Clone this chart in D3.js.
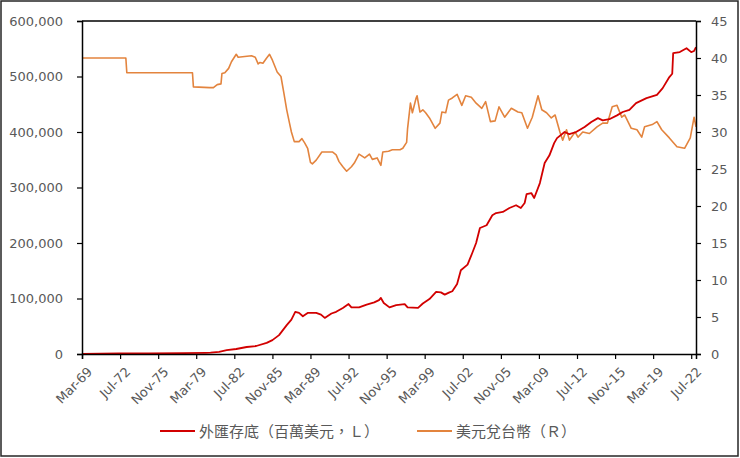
<!DOCTYPE html>
<html>
<head>
<meta charset="utf-8">
<script src="https://cdn.jsdelivr.net/npm/d3@7"></script>
<style>
  body { margin: 0; background: #fff; }
  text { fill: #595959; }
</style>
</head>
<body>
<div id="chart"></div>
<script>
// X axis tick labels (every 40 months)
const tickLabels = ["Mar-69", "Jul-72", "Nov-75", "Mar-79", "Jul-82", "Nov-85", "Mar-89", "Jul-92",
    "Nov-95", "Mar-99", "Jul-02", "Nov-05", "Mar-09", "Jul-12", "Nov-15", "Mar-19", "Jul-22"];
const leftTicks = [0, 100000, 200000, 300000, 400000, 500000, 600000];
const rightTicks = [0, 5, 10, 15, 20, 25, 30, 35, 40, 45];
const firstMonth = "1969-03";
const lastMonth = "2022-12";

// 外匯存底 (百萬美元)
const reserveDates = ["1969-03", "1972-06", "1975-01", "1978-01", "1980-01", "1980-06", "1981-03", "1981-11",
    "1982-09", "1983-08", "1984-06", "1985-05", "1985-11", "1986-06", "1987-02", "1987-07", "1987-11",
    "1988-03", "1988-07", "1988-12", "1989-09", "1990-02", "1990-06", "1991-01", "1991-06", "1992-01",
    "1992-07", "1992-10", "1993-06", "1994-02", "1994-10", "1995-03", "1995-05", "1995-08", "1996-02",
    "1996-09", "1997-06", "1997-09", "1998-08", "1999-01", "1999-08", "2000-03", "2000-08", "2000-12",
    "2001-05", "2001-08", "2002-01", "2002-05", "2002-12", "2003-05", "2003-09", "2004-01", "2004-08",
    "2005-02", "2005-06", "2006-01", "2006-08", "2007-03", "2007-08", "2007-12", "2008-02", "2008-07",
    "2008-10", "2009-04", "2009-09", "2010-02", "2010-07", "2010-10", "2011-06", "2011-11", "2012-06",
    "2013-03", "2013-10", "2014-05", "2014-10", "2015-05", "2016-01", "2016-07", "2017-02", "2017-09",
    "2018-08", "2019-07", "2020-01", "2020-08", "2020-11", "2020-12", "2021-07", "2022-02", "2022-07",
    "2022-10", "2022-12"];
const reserveValues = [400, 1000, 1100, 1400, 2200, 2500, 4000, 7000,
    9000, 12600, 14400, 20000, 25000, 34000, 52000, 62000, 76000,
    74000, 68000, 74000, 74000, 71000, 65000, 73000, 76000, 83000,
    90000, 84000, 84000, 89000, 93000, 97000, 101000, 92000, 84000,
    88000, 90000, 84000, 83000, 91000, 99000, 112000, 111000, 107000,
    111000, 113000, 126000, 151000, 161000, 182000, 200000, 227000, 232000,
    250000, 254000, 256000, 263000, 268000, 263000, 272000, 288000, 290000,
    281000, 308000, 344000, 358000, 380000, 389000, 400000, 396000, 400000,
    409000, 418000, 425000, 421000, 423000, 430000, 436000, 440000, 452000,
    461000, 467000, 479000, 499000, 505000, 542000, 544000, 551000, 544000,
    546000, 553000];

// 美元兌台幣
const fxDates = ["1969-03", "1973-01", "1973-02", "1978-11", "1978-12", "1980-05", "1980-09", "1981-01",
    "1981-05", "1981-06", "1981-09", "1982-01", "1982-04", "1982-09", "1982-11", "1983-06", "1984-01",
    "1984-05", "1984-08", "1984-10", "1985-01", "1985-05", "1985-08", "1985-11", "1986-04", "1986-08",
    "1986-11", "1987-02", "1987-05", "1987-07", "1987-10", "1988-03", "1988-06", "1988-09", "1988-12",
    "1989-03", "1989-05", "1989-09", "1990-03", "1990-11", "1991-02", "1991-06", "1991-09", "1992-01",
    "1992-05", "1992-10", "1993-01", "1993-06", "1993-12", "1994-05", "1994-08", "1995-01", "1995-05",
    "1995-07", "1996-01", "1996-05", "1997-01", "1997-04", "1997-08", "1997-09", "1997-12", "1998-02",
    "1998-06", "1998-07", "1998-10", "1999-01", "1999-04", "1999-08", "2000-02", "2000-07", "2000-09",
    "2001-01", "2001-04", "2001-08", "2002-01", "2002-06", "2002-10", "2003-04", "2003-09", "2004-03",
    "2004-07", "2004-12", "2005-05", "2005-09", "2006-03", "2006-10", "2007-05", "2007-09", "2008-03",
    "2008-08", "2009-02", "2009-06", "2009-11", "2010-04", "2010-08", "2011-01", "2011-04", "2011-08",
    "2011-11", "2012-05", "2012-08", "2013-01", "2013-08", "2014-04", "2014-10", "2015-03", "2015-08",
    "2016-01", "2016-06", "2016-09", "2017-04", "2017-10", "2018-03", "2018-06", "2019-02", "2019-07",
    "2019-12", "2020-08", "2021-04", "2021-12", "2022-06", "2022-10", "2022-12"];
const fxValues = [40.0, 40.0, 38.0, 38.0, 36.1, 36.0, 36.0, 36.4,
    36.5, 37.9, 38.0, 38.6, 39.5, 40.5, 40.1, 40.2, 40.3,
    40.1, 39.2, 39.4, 39.3, 40.0, 40.5, 39.7, 38.1, 37.5,
    35.3, 33.0, 31.2, 30.0, 28.7, 28.7, 29.1, 28.5, 27.8,
    25.9, 25.7, 26.2, 27.3, 27.3, 27.3, 26.9, 26.0, 25.3,
    24.7, 25.3, 25.8, 27.0, 26.5, 27.0, 26.3, 26.5, 25.5,
    27.3, 27.4, 27.6, 27.6, 27.8, 28.6, 30.5, 33.9, 32.6,
    34.6, 34.9, 32.7, 33.0, 32.6, 31.9, 30.5, 31.2, 32.7,
    32.6, 34.3, 34.6, 35.1, 33.6, 34.9, 34.7, 33.9, 33.2,
    34.1, 31.4, 31.5, 33.4, 32.0, 33.2, 32.7, 32.6, 30.5,
    32.0, 34.9, 33.0, 32.6, 31.9, 32.3, 30.0, 28.9, 30.3,
    28.9, 30.0, 29.3, 30.0, 29.8, 30.7, 31.2, 31.2, 33.4,
    33.6, 32.0, 32.3, 30.5, 30.3, 29.3, 30.7, 31.0, 31.4,
    30.3, 29.2, 28.0, 27.8, 29.2, 32.0, 30.7];

const width = 740;
const height = 458;
const margin = {top: 21, right: 44, bottom: 104, left: 82};
const innerW = width - margin.left - margin.right;
const innerH = height - margin.top - margin.bottom;

const parseMonth = d3.timeParse("%Y-%m");
const parseTick = d3.timeParse("%b-%y");

const svg = d3.select("#chart")
    .append("svg")
    .attr("width", width)
    .attr("height", height);

// outer frame
svg.append("rect")
    .attr("x", 1).attr("y", 1)
    .attr("width", width - 3).attr("height", height - 3)
    .attr("fill", "#fff")
    .attr("stroke", "#262626")
    .attr("stroke-width", 1.5);

const g = svg.append("g")
    .attr("transform", `translate(${margin.left},${margin.top})`);

const x = d3.scaleTime()
    .domain([parseMonth(firstMonth), parseMonth(lastMonth)])
    .range([0, innerW]);

const yL = d3.scaleLinear().domain([0, 600000]).range([innerH, 0]);
const yR = d3.scaleLinear().domain([0, 45]).range([innerH, 0]);

// plot area top border
g.append("line")
    .attr("x1", 0).attr("x2", innerW)
    .attr("y1", 0).attr("y2", 0)
    .attr("stroke", "#000")
    .attr("stroke-width", 1.5);

const reserves = reserveDates.map((d, i) => ({date: parseMonth(d), value: reserveValues[i]}));
const fx = fxDates.map((d, i) => ({date: parseMonth(d), value: fxValues[i]}));

g.append("path")
    .datum(fx)
    .attr("fill", "none")
    .attr("stroke", "#E3843E")
    .attr("stroke-width", 1.6)
    .attr("stroke-linejoin", "round")
    .attr("d", d3.line().x(d => x(d.date)).y(d => yR(d.value)));

g.append("path")
    .datum(reserves)
    .attr("fill", "none")
    .attr("stroke", "#D20000")
    .attr("stroke-width", 1.8)
    .attr("stroke-linejoin", "round")
    .attr("d", d3.line().x(d => x(d.date)).y(d => yL(d.value)));

// Left axis
const leftAxis = g.append("g")
    .call(d3.axisLeft(yL).tickValues(leftTicks).tickFormat(d3.format(",")).tickSize(5).tickPadding(14));

// Right axis
const rightAxis = g.append("g")
    .attr("transform", `translate(${innerW},0)`)
    .call(d3.axisRight(yR).tickValues(rightTicks).tickSize(5).tickPadding(10));

// Bottom axis
const bottomAxis = g.append("g")
    .attr("transform", `translate(0,${innerH})`)
    .call(d3.axisBottom(x).tickValues(tickLabels.map(parseTick)).tickFormat(d3.timeFormat("%b-%y")).tickSize(5));

bottomAxis.selectAll("text")
    .attr("text-anchor", "end")
    .attr("dx", 0)
    .attr("dy", 0)
    .attr("transform", "translate(5,13) rotate(-45)");

[leftAxis, rightAxis, bottomAxis].forEach(a => {
    a.selectAll(".domain").attr("stroke", "#000").attr("stroke-width", 1.5);
    a.selectAll(".tick line").attr("stroke", "#000").attr("stroke-width", 1.2);
    a.selectAll("text")
        .style("font-family", "'DejaVu Sans', Verdana, sans-serif")
        .style("font-size", "13px")
        .attr("fill", "#595959");
});

// Legend
const legend = [
    {label: "外匯存底（百萬美元，Ｌ）", color: "#D20000", x: 160},
    {label: "美元兌台幣（Ｒ）", color: "#E3843E", x: 417}
];
legend.forEach(l => {
    svg.append("line")
        .attr("x1", l.x).attr("x2", l.x + 35)
        .attr("y1", 431).attr("y2", 431)
        .attr("stroke", l.color)
        .attr("stroke-width", 1.8);
    svg.append("text")
        .attr("x", l.x + 39)
        .attr("y", 436.5)
        .style("font-family", "'Noto Sans CJK TC', 'Noto Sans', sans-serif")
        .style("font-size", "15px")
        .text(l.label);
});
</script>
</body>
</html>
